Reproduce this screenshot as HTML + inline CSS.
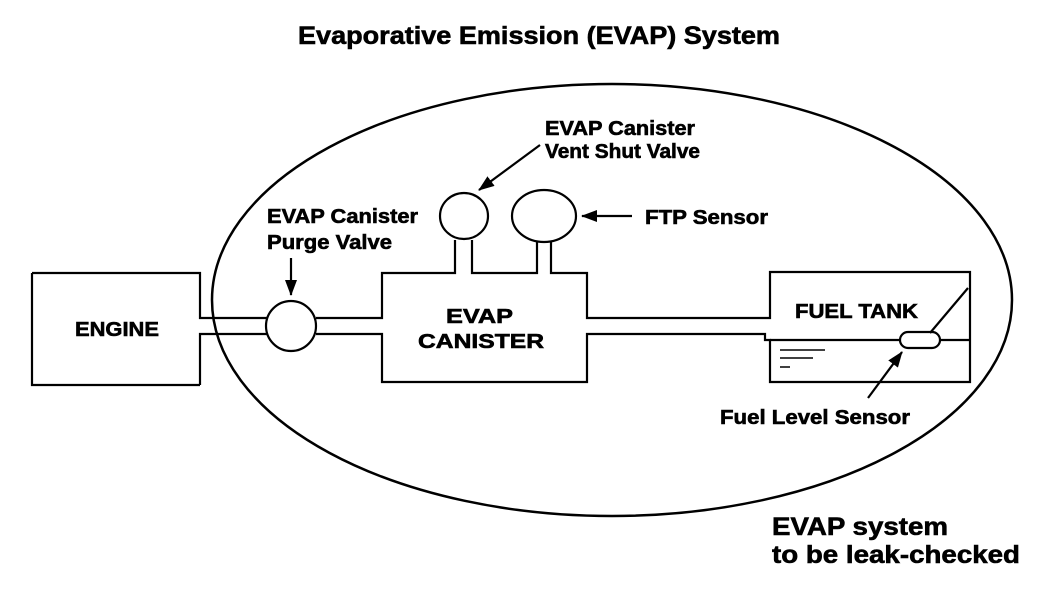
<!DOCTYPE html>
<html><head><meta charset="utf-8"><style>
html,body{margin:0;padding:0;background:#fff;}
svg{display:block;}
text{font-family:"Liberation Sans",Arial,sans-serif;font-weight:bold;fill:#000;stroke:#000;stroke-width:0.6px;}
</style></head><body>
<svg width="1056" height="590" viewBox="0 0 1056 590" xmlns="http://www.w3.org/2000/svg">
<defs>
<marker id="b" markerWidth="16" markerHeight="14" refX="15" refY="7" orient="auto" markerUnits="userSpaceOnUse" viewBox="0 0 16 14"><path d="M0,1 L16,7 L0,13 z" fill="#000"/></marker></defs>
<text x="298" y="44" font-size="25" textLength="482" lengthAdjust="spacingAndGlyphs">Evaporative Emission (EVAP) System</text>
<ellipse cx="612" cy="300" rx="400" ry="216" fill="none" stroke="#000" stroke-width="2.5"/>
<g fill="none" stroke="#000" stroke-width="2.2">
<path d="M32,273 H200 V318 H267 M200,385 H32 V273 M200,385 V334 H267"/>
<circle cx="291" cy="326" r="25" fill="#fff"/>
<path d="M316,318 H382 V273 H455 V240 M472,240 V273 H537 V241 M551,241 V273 H587 V318 H770 V272 H970 V382 H770 V340 H765 V334 H587 V382 H382 V334 H316"/>
<path d="M770,340 H900 M940,340 H970"/>
<ellipse cx="464" cy="216" rx="24" ry="23"/>
<ellipse cx="544" cy="216" rx="32" ry="26"/>
<rect x="900" y="332" width="40" height="16" rx="8"/>
<path d="M930,333 L968,288"/>
<path d="M780,350 H825 M780,358 H813 M780,367 H790" stroke-width="1.5"/>
<path d="M291,258 V295" marker-end="url(#b)"/>
<path d="M540,145 L479,190" marker-end="url(#b)"/>
<path d="M632,216 H582" marker-end="url(#b)"/>
<path d="M868,398 L902,352" marker-end="url(#b)"/>
</g>
<g font-size="20">
<text x="545" y="135" textLength="150" lengthAdjust="spacingAndGlyphs">EVAP Canister</text>
<text x="545" y="158" textLength="155" lengthAdjust="spacingAndGlyphs">Vent Shut Valve</text>
<text x="267" y="223" textLength="151" lengthAdjust="spacingAndGlyphs">EVAP Canister</text>
<text x="267" y="249" textLength="125" lengthAdjust="spacingAndGlyphs">Purge Valve</text>
<text x="645" y="224" textLength="123" lengthAdjust="spacingAndGlyphs">FTP Sensor</text>
<text x="75" y="336" textLength="84" lengthAdjust="spacingAndGlyphs">ENGINE</text>
<text x="446" y="323" textLength="67" lengthAdjust="spacingAndGlyphs">EVAP</text>
<text x="418" y="348" textLength="126" lengthAdjust="spacingAndGlyphs">CANISTER</text>
<text x="795" y="318" textLength="123" lengthAdjust="spacingAndGlyphs">FUEL TANK</text>
<text x="720" y="424" textLength="190" lengthAdjust="spacingAndGlyphs">Fuel Level Sensor</text>
</g>
<text x="772" y="535" font-size="25" textLength="176" lengthAdjust="spacingAndGlyphs">EVAP system</text>
<text x="772" y="563" font-size="25" textLength="248" lengthAdjust="spacingAndGlyphs">to be leak-checked</text>
</svg>
</body></html>
